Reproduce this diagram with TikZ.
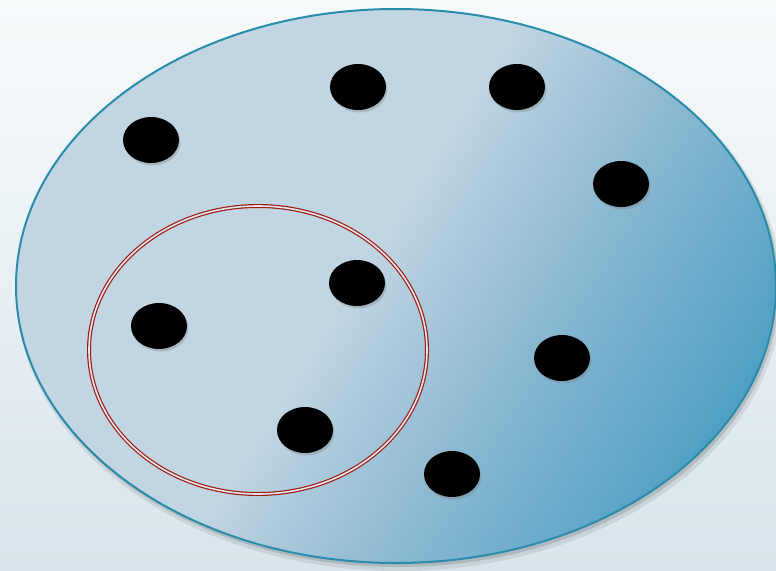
\documentclass[tikz,border=0pt]{standalone}
\usetikzlibrary{shapes.geometric,shadows,fadings}
\definecolor{bgtop}{RGB}{247,250,251}
\definecolor{bgbot}{RGB}{216,229,236}
\definecolor{lb}{RGB}{194,213,226}
\definecolor{mb}{RGB}{140,185,210}
\definecolor{db}{RGB}{80,160,196}
\definecolor{rim}{RGB}{42,140,170}
\definecolor{redl}{RGB}{160,28,18}
\pgfdeclarehorizontalshading{blob}{100bp}{color(0bp)=(lb); color(47bp)=(lb); color(60bp)=(mb); color(76bp)=(db); color(100bp)=(db)}
\tikzset{
  dot/.style={ellipse, fill=black, minimum width=56pt, minimum height=46pt, inner sep=0pt,
    drop shadow={opacity=0.35, shadow xshift=1.5pt, shadow yshift=-2.5pt}},
}
\begin{document}
\begin{tikzpicture}[x=1pt,y=-1pt]
\useasboundingbox (0,0) rectangle (776,570);
\shade[top color=bgtop, bottom color=bgbot] (0,0) rectangle (776,570);
% big ellipse shadow
\fill[black, opacity=0.08] (399,291) ellipse [x radius=383, y radius=280];
\fill[black, opacity=0.12] (398,289) ellipse [x radius=381, y radius=278];
\shade[shading=blob, shading angle=-32] (396,286) ellipse [x radius=380, y radius=277];
\draw[rim, line width=2pt] (396,286) ellipse [x radius=380, y radius=277];
% red double ellipse
\draw[redl, line width=1.2pt, double=white!50!lb, double distance=1.6pt] (258,350) ellipse [x radius=169, y radius=144];
% dots
\node[dot] (d1) at (358,87) {};
\node[dot] (d2) at (517,87) {};
\node[dot] (d3) at (151,140) {};
\node[dot] (d4) at (621,184) {};
\node[dot] (d5) at (357,283) {};
\node[dot] (d6) at (159,326) {};
\node[dot] (d7) at (562,358) {};
\node[dot] (d8) at (305,430) {};
\node[dot] (d9) at (452,474) {};
\end{tikzpicture}
\end{document}
